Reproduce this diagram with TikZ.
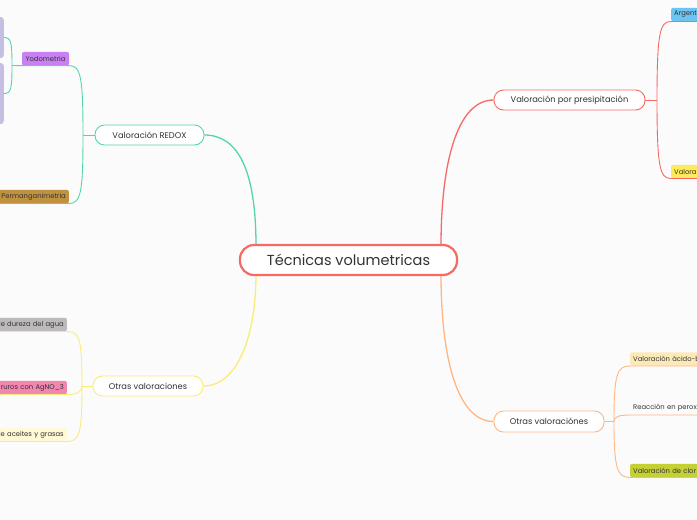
\documentclass[tikz,border=0pt]{standalone}
\usepackage{fontspec}
\setmainfont{Poppins}
\definecolor{cred}{RGB}{246,106,100}
\definecolor{cgreen}{RGB}{84,214,168}
\definecolor{cyel}{RGB}{250,236,120}
\definecolor{corange}{RGB}{255,182,132}
\definecolor{ctext}{RGB}{51,51,51}
\definecolor{bgc}{RGB}{251,251,251}
\definecolor{lavc}{RGB}{197,191,226}
\definecolor{purpc}{RGB}{200,128,242}
\definecolor{goldc}{RGB}{192,146,64}
\definecolor{grayc}{RGB}{190,185,187}
\definecolor{pinkc}{RGB}{243,134,176}
\definecolor{cremc}{RGB}{255,249,214}
\definecolor{bluec}{RGB}{108,196,242}
\definecolor{yellc}{RGB}{255,234,90}
\definecolor{tanc}{RGB}{252,233,184}
\definecolor{olivec}{RGB}{196,208,52}
\begin{document}
\begin{tikzpicture}[x=1pt,y=-1pt,
  mainbox/.style={draw=cred, line width=2.2pt, rounded corners=14pt, fill=white,
    minimum width=217pt, minimum height=30pt, inner sep=0pt,
    font=\fontsize{14.5}{16}\selectfont, text=ctext},
  midbox/.style={line width=0.9pt, rounded corners=9.5pt, fill=white,
    minimum height=20pt, inner sep=0pt, font=\fontsize{8.3}{10}\selectfont, text=ctext},
  leaf/.style={rounded corners=2pt, minimum height=13.5pt, inner ysep=0pt, inner xsep=3pt,
    font=\fontsize{6.8}{8}\selectfont, text=ctext},
  leafL/.style={leaf, anchor=south east, text width=90pt, align=right},
  leafR/.style={leaf, anchor=south west, text width=70pt, align=left},
  lavbox/.style={fill=lavc, rounded corners=3pt, anchor=east, minimum width=30pt, inner sep=0pt},
  br/.style={line width=0.9pt},
  conn/.style={line width=1.3pt}
]
\fill[bgc] (0,0) rectangle (697,520);
\useasboundingbox (0,0) rectangle (697,520);
\clip (0,0) rectangle (697,520);

% coordinates
\coordinate (cgT) at (256,246);
\coordinate (cyB) at (256,274);
\coordinate (crT) at (441,246);
\coordinate (coB) at (441,274);
\coordinate (gS) at (83,135);
\coordinate (yS) at (12,65.5);
\coordinate (ylS) at (82,386);
\coordinate (rS) at (657,100);
\coordinate (oS) at (614,421.5);

% mid nodes
\node[midbox, draw=cgreen, minimum width=109pt] (redox) at (149.5,135) {Valoración REDOX};
\node[midbox, draw=cyel, minimum width=110pt] (otl) at (148,386) {Otras valoraciones};
\node[midbox, draw=cred, minimum width=151pt] (pre) at (569.5,100) {Valoración por presipitación};
\node[midbox, draw=corange, minimum width=110pt, minimum height=21pt] (otr) at (549,421.5) {Otras valoraciónes};

% leaves
\node[leaf, fill=purpc, minimum width=47pt, inner xsep=0pt] (yodo) at (45.5,58.7) {Yodometria};
\node[leafL, fill=goldc] (perm) at (69,203.5) {Permanganimetria};
\node[lavbox, minimum height=41pt] (l1) at (4,37.5) {};
\node[lavbox, minimum height=61pt] (l2) at (4,93.5) {};
\node[leafL, fill=grayc] (dur) at (67,331.5) {de dureza del agua};
\node[leafL, fill=pinkc] (agno) at (67,394.5) {ruros con AgNO\_3};
\node[leafL, fill=cremc] (ace) at (67,441.5) {de aceites y grasas};
\node[leafR, fill=bluec] (arg) at (671,21.5) {Argent};
\node[leafR, fill=yellc] (val) at (671,178.5) {Valora};
\node[leafR, fill=tanc] (acb) at (630,366) {Valoración ácido-b};
\node[leafR] (rea) at (630,415) {Reacción en perox};
\node[leafR, fill=olivec] (clo) at (630,477.5) {Valoración de clor};

% main connectors
\draw[conn, cgreen] (redox.east) .. controls (238,135) and (256,170) .. (cgT);
\draw[conn, cyel] (otl.east) .. controls (238,386) and (256,335) .. (cyB);
\draw[conn, cred] (pre.west) .. controls (458,100) and (441,160) .. (crT);
\draw[conn, corange] (otr.west) .. controls (458,421.5) and (441,360) .. (coB);

% central node
\node[mainbox] (c) at (348.5,260) {Técnicas volumetricas};

% green bracket
\draw[br, cgreen] (redox.west) -- (gS);
\draw[br, cgreen] (gS) .. controls (83,78) and (81,65.5) .. (yodo.south east) -- (yodo.south west) -- (yS);
\draw[br, cgreen] (gS) .. controls (83,192) and (81,203.5) .. (perm.south east) -- (perm.south west);
\draw[br, cgreen] (yS) .. controls (12,42) and (11,37.5) .. (l1.east);
\draw[br, cgreen] (yS) .. controls (12,89) and (11,93.5) .. (l2.east);

% yellow bracket
\draw[br, cyel] (otl.west) -- (ylS);
\draw[br, cyel] (ylS) .. controls (82,340) and (80,331.5) .. (dur.south east) -- (dur.south west);
\draw[br, cyel] (ylS) .. controls (82,392) and (77,394.5) .. (agno.south east) -- (agno.south west);
\draw[br, cyel] (ylS) .. controls (82,432) and (80,441.5) .. (ace.south east) -- (ace.south west);

% red bracket
\draw[br, cred] (pre.east) -- (rS);
\draw[br, cred] (rS) .. controls (657,32) and (660,21.5) .. (arg.south west) -- (arg.south east);
\draw[br, cred] (rS) .. controls (657,168) and (660,178.5) .. (val.south west) -- (val.south east);

% orange bracket
\draw[br, corange] (otr.east) -- (oS);
\draw[br, corange] (oS) .. controls (614,374) and (617,366) .. (acb.south west) -- (acb.south east);
\draw[br, corange] (oS) .. controls (614,417) and (618,415) .. (rea.south west) -- (rea.south east);
\draw[br, corange] (oS) .. controls (614,468) and (617,477.5) .. (clo.south west) -- (clo.south east);
\end{tikzpicture}
\end{document}
